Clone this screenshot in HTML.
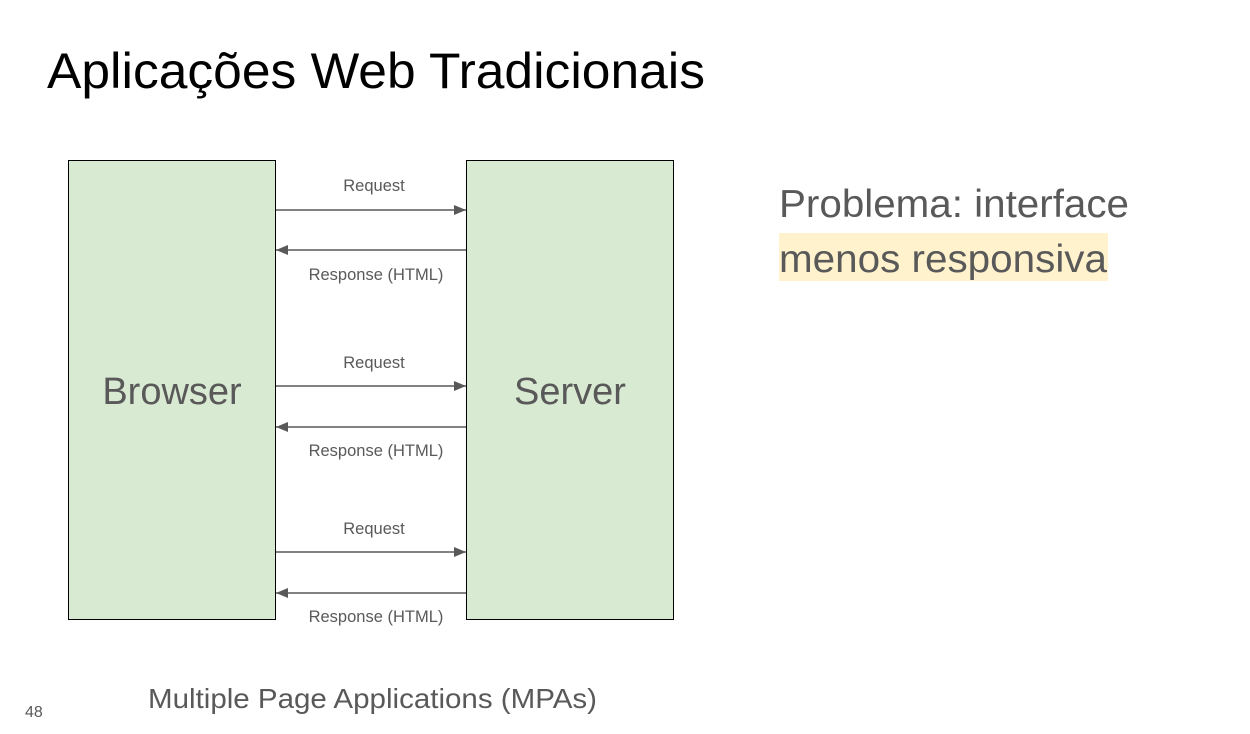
<!DOCTYPE html>
<html><head><meta charset="utf-8"><style>
html,body{margin:0;padding:0;background:#fff;}
svg{display:block;font-family:"Liberation Sans",Arial,sans-serif;}
</style></head><body>
<svg width="1250" height="734" viewBox="0 0 1250 734" xmlns="http://www.w3.org/2000/svg">
<defs>
<marker id="a" markerWidth="12" markerHeight="10" refX="12" refY="5" orient="auto" markerUnits="userSpaceOnUse">
<path d="M0,0 L12,5 L0,10 z" fill="#595959"/></marker>
</defs>
<text x="47" y="88" font-size="50" fill="#000" textLength="658" lengthAdjust="spacingAndGlyphs">Aplicações Web Tradicionais</text>
<rect x="68.5" y="160.5" width="207" height="459" fill="#d9ead3" stroke="#000" stroke-width="1"/>
<rect x="466.5" y="160.5" width="207" height="459" fill="#d9ead3" stroke="#000" stroke-width="1"/>
<text x="172" y="404" font-size="38" fill="#595959" text-anchor="middle">Browser</text>
<text x="570" y="404" font-size="38" fill="#595959" text-anchor="middle">Server</text>
<g stroke="#595959" stroke-width="1.5" fill="none">
<line x1="276" y1="210" x2="466" y2="210" marker-end="url(#a)"/>
<line x1="466" y1="250" x2="276" y2="250" marker-end="url(#a)"/>
<line x1="276" y1="386" x2="466" y2="386" marker-end="url(#a)"/>
<line x1="466" y1="427" x2="276" y2="427" marker-end="url(#a)"/>
<line x1="276" y1="552" x2="466" y2="552" marker-end="url(#a)"/>
<line x1="466" y1="593" x2="276" y2="593" marker-end="url(#a)"/>
</g>
<g font-size="16.5" fill="#595959" text-anchor="middle">
<text x="374" y="191">Request</text>
<text x="376" y="280">Response (HTML)</text>
<text x="374" y="368">Request</text>
<text x="376" y="456">Response (HTML)</text>
<text x="374" y="534">Request</text>
<text x="376" y="622">Response (HTML)</text>
</g>
<rect x="779" y="233" width="329" height="48" fill="#fff2cc"/>
<text x="779" y="217" font-size="39" fill="#595959" textLength="350" lengthAdjust="spacingAndGlyphs">Problema: interface</text>
<text x="779" y="272" font-size="39" fill="#595959" textLength="328" lengthAdjust="spacingAndGlyphs">menos responsiva</text>
<text x="148" y="708" font-size="28" fill="#595959" textLength="449" lengthAdjust="spacingAndGlyphs">Multiple Page Applications (MPAs)</text>
<text x="25" y="717" font-size="16" fill="#595959">48</text>
</svg>
</body></html>
